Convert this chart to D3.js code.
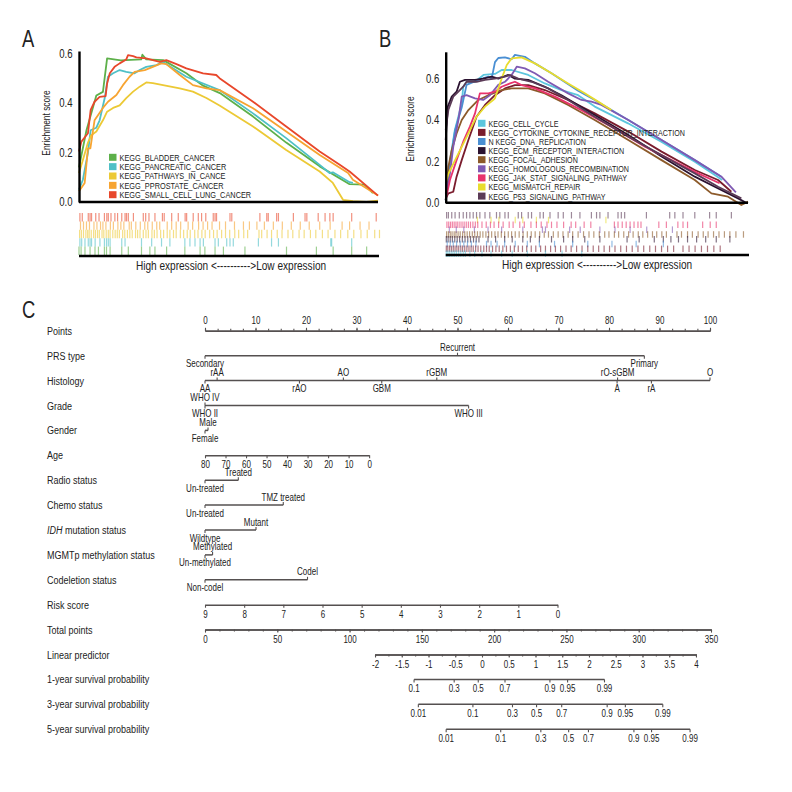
<!DOCTYPE html>
<html lang="en">
<head>
<meta charset="UTF-8">
<title>GSEA and nomogram</title>
<script src="https://cdnjs.cloudflare.com/ajax/libs/d3/7.8.5/d3.min.js"></script>
<style>
    body { margin: 0; background: #fff; }
    svg text { font-family: "Liberation Sans", Arial, sans-serif; fill: #222; }
</style>
</head>
<body>
<svg id="chart" width="792" height="792"></svg>
<script>
const FONT = "Liberation Sans, Arial, sans-serif";
const SX = 0.8;   // squeeze text horizontally to get a condensed look

// ---- panel A: running enrichment score, [rank %, ES]
const setNamesA = ["KEGG_BLADDER_CANCER", "KEGG_PANCREATIC_CANCER", "KEGG_PATHWAYS_IN_CANCE", "KEGG_PPROSTATE_CANCER", "KEGG_SMALL_CELL_LUNG_CANCER"];
const colorsA = ["#5db04a", "#4fc0c6", "#ecc935", "#f7a431", "#e8472b"];
const bladderCurve = [[0,0.14],[2.5,0.29],[5.8,0.43],[8.0,0.445],[9.4,0.58],[14,0.572],[20.8,0.576],[21.2,0.595],[22.5,0.576],[28.1,0.573],[29.2,0.566],[35.9,0.52],[41.5,0.47],[47.1,0.44],[58.2,0.345],[69.3,0.24],[80.5,0.144],[90.5,0.072],[95.5,0.07],[98.3,0.036]];
const pancreaticCurve = [[0,0.05],[1.3,0.09],[3.0,0.2],[3.9,0.29],[5.8,0.3],[6.9,0.33],[8.6,0.42],[9.7,0.506],[11.4,0.52],[13.6,0.533],[15.8,0.526],[18.6,0.52],[20.3,0.533],[22.5,0.546],[25.9,0.553],[28.1,0.566],[35.9,0.506],[47.0,0.452],[58.2,0.358],[69.3,0.258],[80.5,0.15],[83.8,0.117],[84.9,0.12],[90.5,0.08],[91.6,0.077]];
const pathwaysCurve = [[0,0.117],[1.3,0.17],[3.0,0.24],[4.1,0.27],[5.8,0.285],[8.0,0.33],[9.4,0.365],[11.4,0.38],[13.6,0.39],[15.8,0.42],[18.1,0.446],[20.3,0.466],[22.5,0.483],[24.7,0.48],[28.1,0.472],[33.7,0.459],[38.1,0.446],[42.6,0.42],[47.0,0.39],[58.2,0.305],[69.3,0.21],[80.5,0.123],[84.9,0.077],[88.3,0.009],[91.6,0.003],[96.1,0],[100,0.005]];
const prostateCurve = [[0,0.043],[1.9,0.077],[3.0,0.217],[3.8,0.217],[5.2,0.33],[8.0,0.38],[9.7,0.405],[12.5,0.432],[14.7,0.472],[16.9,0.506],[18.6,0.526],[22.0,0.533],[24.7,0.546],[27.5,0.56],[29.2,0.557],[33.7,0.513],[38.1,0.472],[42.6,0.459],[47.0,0.452],[58.2,0.379],[69.3,0.285],[80.5,0.19],[90.0,0.117],[91.6,0.09],[100,0.026]];
const sclcCurve = [[0,0.204],[0.8,0.244],[3.0,0.278],[3.9,0.372],[5.2,0.405],[6.9,0.425],[8.9,0.428],[9.4,0.479],[10.3,0.52],[11.9,0.546],[13.6,0.56],[15.8,0.576],[16.4,0.593],[18.1,0.589],[19.2,0.584],[22.5,0.58],[24.7,0.573],[27.0,0.566],[29.2,0.573],[32.6,0.557],[35.9,0.54],[41.5,0.52],[45.9,0.513],[47.0,0.5],[58.2,0.405],[69.3,0.305],[80.5,0.204],[87.2,0.15],[90.5,0.123],[100,0.026]];

// hit positions (rank %) for the barcode under panel A
const bladderHits = [0,0.7,2,3.7,5.35,6.5,8.5,9.2,10.4,14.3,16.5,20.9,23.7,25.4,29.3,35.4,40.5,42.1,45.5,48.3,55.5,69.4,79.4,85,91.2,96.2];
const pancreaticHits = [0.3,0.9,2,3.1,3.7,4.2,5.4,7,8.5,9.2,9.8,10.4,14.3,15.4,20.9,24.3,27.6,30.4,35.4,37.1,38.8,40.5,41.6,45.5,46.6,49.4,50.5,51.6,60,64.4,66.7,84.2,84.5,91.2];
const pathwaysHits = [0.2,0.8,1.5,2.3,2.9,3.4,4.1,4.9,5.5,6.2,6.8,7.7,8.3,9.1,9.8,10.4,11.3,12.1,12.8,13.5,14.6,15.3,16.2,17,17.8,18.9,19.6,20.4,21.5,22.4,23.2,24.4,25.2,26.1,27.3,28.3,29.5,30.4,31.6,32.5,33.9,35,36.2,37.2,38.7,39.8,41.1,42.2,43.7,45,46.2,47.7,49,50.4,52.1,53.4,55.1,56.4,60.2,61.1,62.9,64.4,66.3,67.9,69.9,71.5,73.6,75.3,77.4,79.2,81.4,83.3,85.6,87.5,89.9,91.9,94.3,96.4,98.9,100.5];
const prostateHits = [0.5,1.5,2.5,3.5,5,6,7.2,8,9,10.5,11.5,13,14,15,16.8,17.5,19,20.5,22,23,24.5,26,27,29.5,31,32.5,34,36.5,38,40,41.5,43,44.5,47,49,52,55,57,59.5,62,65,68,71,74,77,80.5,84,88,90.5,94,97];
const sclcHits = [0.3,1.1,3.1,3.7,4.2,5.6,6.7,8.5,9.3,9.8,10.7,12,12.9,14.3,15.4,15.9,16.5,18.2,21.5,22.3,23.4,25.4,27.9,28.5,31,33.2,35.5,36,38.2,39.9,41,42.4,44.9,45.5,46,50.5,51.1,60.5,62.8,63.3,66.1,66.7,71.7,75.6,76.2,80,82.3,83.9,85,91.2,99.4];

// ---- panel B
const setNamesB = ["KEGG_CELL_CYCLE", "KEGG_CYTOKINE_CYTOKINE_RECEPTOR_INTERACTION", "N KEGG_DNA_REPLICATION", "KEGG_ECM_RECEPTOR_INTERACTION", "KEGG_FOCAL_ADHESION", "KEGG_HOMOLOGOUS_RECOMBINATION", "KEGG_JAK_STAT_SIGNALING_PATHWAY", "KEGG_MISMATCH_REPAIR", "KEGG_P53_SIGNALING_PATHWAY"];
const colorsB = ["#5cc6de", "#7a1c2d", "#4a8fd3", "#2b1230", "#8c5a2a", "#7f5ab3", "#e8336c", "#e8dc2e", "#5b3b57"];
const cellCycleCurve = [[0,0.01],[1.4,0.2],[3,0.35],[5.3,0.48],[5.8,0.56],[6.9,0.585],[9.7,0.585],[12.5,0.618],[16.3,0.623],[18.5,0.642],[21.8,0.642],[27.3,0.618],[32.8,0.577],[38.3,0.545],[43.8,0.52],[49.3,0.465],[60.3,0.384],[71.3,0.295],[82.4,0.198],[91.5,0.11]];
const cytokineCurve = [[0,0.021],[0.9,0.045],[2.5,0.053],[3.6,0.126],[5.3,0.206],[7.5,0.303],[10.2,0.416],[13,0.473],[16.3,0.52],[19.6,0.553],[22.9,0.569],[27.3,0.569],[32.8,0.545],[40.5,0.497],[49.3,0.432],[60.4,0.344],[71.4,0.247],[82.4,0.158],[90.1,0.11],[94.5,0.053]];
const dnaRepCurve = [[0,0.013],[1.4,0.19],[3.1,0.35],[5.3,0.46],[6.9,0.57],[10.8,0.594],[14.1,0.61],[15.2,0.6],[16.3,0.68],[17.4,0.7],[19.6,0.703],[21.8,0.694],[22.9,0.715],[26.2,0.706],[29.5,0.674],[35,0.626],[43.8,0.542],[49.3,0.497],[54.8,0.448],[60.4,0.4],[71.4,0.303],[82.4,0.206],[91.2,0.126]];
const ecmCurve = [[0,0.303],[0.7,0.465],[2,0.513],[3.6,0.537],[4.7,0.585],[6.4,0.594],[9.7,0.594],[12.4,0.6],[15.2,0.61],[17.4,0.6],[20.7,0.618],[22.9,0.6],[27.3,0.594],[32.8,0.561],[38.3,0.52],[49.3,0.424],[60.4,0.327],[71.4,0.223],[82.4,0.126],[89,0.077],[96.7,0.021],[99.4,0]];
const focalCurve = [[0,0.013],[0.9,0.174],[2,0.255],[3.6,0.335],[5.3,0.4],[7.5,0.448],[10.8,0.497],[14.1,0.52],[18.5,0.545],[21.8,0.553],[27.3,0.553],[32.8,0.529],[40.5,0.473],[49.3,0.4],[60.4,0.303],[71.4,0.206],[82.4,0.11],[87.9,0.045],[93.4,0.029],[97.8,-0.011],[100,0.005]];
const homologousCurve = [[0,0.045],[1.4,0.14],[2.5,0.27],[4.2,0.4],[5.3,0.513],[6.9,0.52],[9.7,0.505],[12.4,0.497],[14.6,0.52],[17.4,0.57],[19.6,0.585],[21.8,0.618],[23.5,0.658],[26.2,0.65],[29.5,0.626],[33.9,0.585],[40.5,0.529],[44.9,0.497],[48.2,0.489],[51.5,0.473],[60.4,0.4],[71.4,0.303],[82.4,0.206],[91.2,0.126],[96,0.05]];
const jakCurve = [[0,0.013],[1.4,0.11],[3.6,0.206],[5.8,0.295],[8,0.368],[9.7,0.432],[11.3,0.529],[14.1,0.529],[16.3,0.537],[18.5,0.561],[21.3,0.577],[22.9,0.585],[25.1,0.569],[29.5,0.553],[36.1,0.513],[44.9,0.448],[54.8,0.368],[65.9,0.271],[76.9,0.19],[83.5,0.142],[90.6,0.094]];
const mismatchCurve = [[0,0.094],[0.9,0.14],[3.1,0.206],[5.3,0.27],[7.5,0.335],[10.2,0.416],[13,0.465],[15.7,0.497],[16.3,0.505],[18.5,0.6],[20.2,0.666],[21.8,0.698],[25.1,0.703],[29.5,0.674],[35,0.626],[40.5,0.577],[46,0.529],[50.4,0.489],[54.8,0.448]];
const p53Curve = [[0,0.352],[0.9,0.45],[2.5,0.513],[4.2,0.537],[5.8,0.561],[6.9,0.585],[10.2,0.585],[13,0.594],[16.3,0.6],[19.6,0.61],[21.3,0.618],[24,0.6],[28.4,0.585],[33.9,0.553],[40.5,0.497],[49.3,0.416],[60.4,0.319],[71.4,0.23],[82.4,0.142],[90.1,0.077],[97.8,0.021]];

const cellCycleHits = [0.2,0.7,1.2,1.8,2.4,3,3.6,4.3,5,5.8,6.5,8,9.6,12,15,18.5,22,27,33,38.5,45];
const cytokineHits = [0.2,0.7,1.3,1.9,2.5,3.1,3.7,4.3,5,5.6,6.3,7,7.7,8.4,9.1,9.9,10.7,11.6,12.6,13.5,14.4,15.5,16.6,17.7,18.9,20.1,21.4,22.7,24,25.4,26.8,28.3,29.8,31.4,33,34.7,36.3,38,39.8,41.5,43.3,45.1,47,48.8,50.6,52.4,54.2,56,57.9,59.8,61.7,63.6,65.5,67.5,69.4,71.4,73.4,75.4,78.5,80.5,82.5,84.6,86.6,88.7,90.8];
const dnaRepHits = [0.5,1.5,2.5,3.6,4.8,6,7.2,8.5,10,13.5,15,17,19.5,23,27,31,36,42,47,55,63,72];
const ecmHits = [0.2,0.8,1.5,2.2,3,3.8,4.6,5.5,6.4,7.3,8.2,9.2,10.1,11,14,16.5,19.5,22,25.5,28,31,35,39,42,46,51,60,64,69,72,74.5,77,80,83,86,89.5,94];
const focalHits = [0.3,0.9,1.5,2.1,2.8,3.4,4.1,4.8,5.6,6.3,7.1,7.9,8.8,9.6,10.5,11.4,12.3,13.3,14.2,15.2,16.3,17.3,18.4,19.5,20.7,21.8,23,24.3,25.6,27,28.3,29.6,31.1,32.6,34,35.6,37.2,38.8,40.5,42,43.8,45.6,47.4,49,50.8,52.6,54,55.8,57.2,58.9,60.5,62,63.7,65.2,66.8,68.4,69.8,71.5,73,76.5,78,80,81.6,83.5,85.2,86.8,88.6,90.4,92.2,94,96,98.5];
const homologousHits = [1.2,3.5,6,9.5,14,18.5,25.5,32,33,41,44.5,51,56,61,66.5,75];
const jakHits = [0.4,1,1.6,2.2,2.8,3.4,4,4.7,5.4,6.1,6.8,7.5,8.2,9,9.8,10.6,12,13.4,14.8,16,17.5,19,21,22.3,24.5,26,28.2,30,31.6,33.5,35,36.8,39,41.5,43,45.8,48,55.8,57,58.4,59.7,61,62.3,63.6,64.6,70.5,73,76.8,78.5,80,85,87.5,89.5];
const mismatchHits = [10.5,15,17.6,23,25.5,30,34,53];
const p53Hits = [0.3,0.9,2,3.1,4.5,5.8,6.9,8,9.1,10.2,11.3,13,14.6,16.8,17.9,19.6,20.7,24,25.1,27.3,28.4,31.2,32.3,34.5,37.2,38.9,41.6,44.4,48.2,49.9,51,53.7,57,58.1,59.2,66.4,74.1,75.8,78.5,82.4,87.3,89.5,94.5];

// ---- panel C: nomogram (points per level)
const rowNames = ["Points", "PRS type", "Histology", "Grade", "Gender", "Age", "Radio status", "Chemo status", "IDH mutation status", "MGMTp methylation status", "Codeletion status", "Risk score", "Total points", "Linear predictor", "1-year survival probability", "3-year survival probability", "5-year survival probability"];
const prsLevels = ["Secondary", "Recurrent", "Primary"];
const prsPoints = [0, 50, 87];
const histLevels = ["AA", "rAA", "rAO", "AO", "GBM", "rGBM", "A", "rO-sGBM", "rA", "O"];
const histPoints = [0, 2.4, 18.7, 27.4, 35, 45.9, 81.6, 81.7, 88.4, 100];
const gradeLevels = ["WHO II", "WHO III", "WHO IV"];
const gradePoints = [0, 52.2, 0];
const genderLevels = ["Female", "Male"];
const genderPoints = [0, 0.6];
const ageTicks = [80, 70, 60, 50, 40, 30, 20, 10, 0];
const agePointsAtZero = 32.5;           // age 80 -> 0 points, age 0 -> 32.5
const radioLevels = ["Un-treated", "Treated"];
const radioPoints = [0, 6.6];
const chemoLevels = ["Un-treated", "TMZ treated"];
const chemoPoints = [0, 15.5];
const idhLevels = ["Wildtype", "Mutant"];
const idhPoints = [0, 10.1];
const mgmtLevels = ["Un-methylated", "Methylated"];
const mgmtPoints = [0, 1.5];
const codelLevels = ["Non-codel", "Codel"];
const codelPoints = [0, 20.3];
const riskTicks = [9, 8, 7, 6, 5, 4, 3, 2, 1, 0];
const riskPointsAtZero = 69.8;          // risk 9 -> 0 points, risk 0 -> 69.8
const totalTicks = [0, 50, 100, 150, 200, 250, 300, 350];
const lpTicks = [-2, -1.5, -1, -0.5, 0, 0.5, 1, 1.5, 2, 2.5, 3, 3.5, 4];
const lpTotalRange = [117.6, 339.6];    // total points at lp -2 and lp 4
const surv1Probs = [0.1, 0.3, 0.5, 0.7, 0.9, 0.95, 0.99];
const surv1Lp = [-1.27, -0.52, -0.07, 0.43, 1.27, 1.60, 2.29];
const surv3Probs = [0.01, 0.1, 0.3, 0.5, 0.7, 0.9, 0.95, 0.99];
const surv3Lp = [-1.19, -0.17, 0.57, 1.02, 1.49, 2.34, 2.68, 3.38];
const surv5Probs = [0.01, 0.1, 0.3, 0.5, 0.7, 0.9, 0.95, 0.99];
const surv5Lp = [-0.67, 0.35, 1.10, 1.62, 1.99, 2.84, 3.17, 3.89];

const svg = d3.select("#chart");

// text with a horizontal squeeze
function txt(parent, x, y, s, size, anchor, extra) {
    return parent.append("text")
        .attr("transform", `translate(${x},${y}) ${extra || ""} scale(${SX},1)`)
        .attr("font-size", size)
        .attr("text-anchor", anchor || "start")
        .text(s);
}

function drawGsea(opt) {
    const g = svg.append("g");
    const x = d3.scaleLinear().domain([0, 100]).range(opt.xRange);
    const y = d3.scaleLinear().domain([0, opt.yMax]).range(opt.yRange);

    // barcode of hits
    opt.hits.forEach((hits, i) => {
        g.append("g").selectAll("line").data(hits).enter().append("line")
            .attr("x1", d => x(d)).attr("x2", d => x(d))
            .attr("y1", opt.rugTop + i * opt.rugStep)
            .attr("y2", opt.rugTop + i * opt.rugStep + opt.rugLen)
            .attr("stroke", opt.rugColors[i])
            .attr("stroke-width", 1.2)
            .attr("stroke-opacity", 0.6);
    });

    const line = d3.line().x(d => x(d[0])).y(d => y(d[1]));
    opt.curves.forEach((c, i) => {
        g.append("path").datum(c).attr("d", line)
            .attr("fill", "none").attr("stroke", opt.colors[i])
            .attr("stroke-width", 1.8).attr("stroke-linejoin", "round");
    });

    const ax = g.append("g").attr("transform", `translate(${opt.xRange[0]},0)`)
        .call(d3.axisLeft(y).tickValues([0, 0.2, 0.4, 0.6]).tickFormat(d3.format(".1f"))
            .tickSize(0).tickPadding(8).tickSizeOuter(0));
    ax.attr("font-family", FONT).attr("font-size", 12);
    ax.selectAll(".tick text").attr("transform", `scale(${SX},1)`).attr("fill", "#222");
    ax.select(".domain").attr("stroke", "#000").attr("stroke-width", 2.4);

    g.append("line").attr("x1", x(0)).attr("x2", x(100)).attr("y1", y(0)).attr("y2", y(0))
        .attr("stroke", "#000").attr("stroke-width", 2.4);
    g.append("line").attr("x1", x(0)).attr("x2", x(100) + 1).attr("y1", opt.bottomY).attr("y2", opt.bottomY)
        .attr("stroke", "#000").attr("stroke-width", 2.4);

    txt(g, opt.yLabelX, opt.yLabelY, "Enrichment score", 10.5, "middle", "rotate(-90)");
    txt(g, opt.xLabelX, opt.bottomY + 14, "High expression <---------->Low expression", 12.6, "middle");

    // legend
    opt.names.forEach((n, i) => {
        const cy = opt.legY + i * opt.legStep;
        g.append("rect").attr("x", opt.legX).attr("y", cy - 3.5).attr("width", 7.5).attr("height", 7)
            .attr("fill", opt.colors[i]);
        txt(g, opt.legX + 10.5, cy + 3.4, n, opt.legSize);
    });
}

txt(svg, 22, 47, "A", 23);
txt(svg, 379, 47, "B", 23);
txt(svg, 22, 318, "C", 23);

drawGsea({
    xRange: [79, 378], yRange: [202, 51], yMax: 0.61,
    curves: [bladderCurve, pancreaticCurve, pathwaysCurve, prostateCurve, sclcCurve],
    colors: colorsA, names: setNamesA,
    hits: [sclcHits, prostateHits, pathwaysHits, pancreaticHits, bladderHits],
    rugColors: [colorsA[4], colorsA[3], colorsA[2], colorsA[1], colorsA[0]],
    rugTop: 213, rugStep: 8.4, rugLen: 8.4, bottomY: 256,
    yLabelX: 50, yLabelY: 123, xLabelX: 231,
    legX: 109, legY: 157.3, legStep: 9.35, legSize: 9.2
});

drawGsea({
    xRange: [445.7, 748], yRange: [202.7, 51.8], yMax: 0.73,
    curves: [cellCycleCurve, cytokineCurve, dnaRepCurve, ecmCurve, focalCurve, homologousCurve, jakCurve, mismatchCurve, p53Curve],
    colors: colorsB, names: setNamesB,
    hits: [p53Hits, mismatchHits, jakHits, homologousHits, focalHits, ecmHits, dnaRepHits, cytokineHits, cellCycleHits],
    rugColors: [colorsB[8], colorsB[7], colorsB[6], colorsB[5], colorsB[4], colorsB[3], colorsB[2], colorsB[1], colorsB[0]],
    rugTop: 212, rugStep: 4.8, rugLen: 6.5, bottomY: 255,
    yLabelX: 414, yLabelY: 129, xLabelX: 597,
    legX: 478, legY: 123.3, legStep: 9.1, legSize: 8.9
});

// ---- nomogram
const LINE = "#555050";
const nomo = svg.append("g");
const rowY = i => 330.8 + i * 24.9;
const px = d3.scaleLinear().domain([0, 100]).range([205, 710]);
const tot = d3.scaleLinear().domain([0, 350]).range([205, 711]);
const lpScale = d3.scaleLinear().domain([-2, 4]).range(lpTotalRange.map(tot));

rowNames.forEach((n, i) => {
    const t = nomo.append("text")
        .attr("transform", `translate(47,${rowY(i) + 4}) scale(${SX + 0.02},1)`)
        .attr("font-size", 11);
    if (n.startsWith("IDH")) {
        t.append("tspan").attr("font-style", "italic").text("IDH");
        t.append("tspan").text(n.slice(3));
    } else {
        t.text(n);
    }
});

function styleAxis(g) {
    g.attr("font-family", FONT).attr("font-size", 10);
    g.select(".domain").attr("stroke", LINE).attr("stroke-width", 1.5);
    g.selectAll(".tick line").attr("stroke", LINE).attr("stroke-width", 1.1);
    g.selectAll(".tick text").attr("fill", "#222").attr("transform", `scale(${SX},1)`);
}

function scaleRow(i, scale, ticks, minor, above) {
    const y = rowY(i);
    const mk = above ? d3.axisTop : d3.axisBottom;
    if (minor) {
        const gm = nomo.append("g").attr("transform", `translate(0,${y})`)
            .call(mk(scale).tickValues(minor).tickFormat("").tickSize(2).tickSizeOuter(0));
        styleAxis(gm);
    }
    const ga = nomo.append("g").attr("transform", `translate(0,${y})`)
        .call(mk(scale).tickValues(ticks).tickFormat(d => d).tickSize(3).tickPadding(above ? 4 : 3).tickSizeOuter(0));
    styleAxis(ga);
}

function catRow(i, levels, pts) {
    const y = rowY(i);
    const order = d3.range(levels.length).sort((a, b) => pts[a] - pts[b]);
    nomo.append("line").attr("x1", px(d3.min(pts))).attr("x2", px(d3.max(pts)))
        .attr("y1", y).attr("y2", y).attr("stroke", LINE).attr("stroke-width", 1.5);
    order.forEach((k, j) => {
        const up = j % 2 === 1;
        const xx = px(pts[k]);
        nomo.append("line").attr("x1", xx).attr("x2", xx).attr("y1", y).attr("y2", y + (up ? -3 : 3))
            .attr("stroke", LINE).attr("stroke-width", 1.1);
        txt(nomo, xx, y + (up ? -4.5 : 11.5), levels[k], 10, "middle");
    });
}

scaleRow(0, px, d3.range(0, 101, 10), d3.range(0, 100.1, 2.5), true);
catRow(1, prsLevels, prsPoints);
catRow(2, histLevels, histPoints);
catRow(3, gradeLevels, gradePoints);
catRow(4, genderLevels, genderPoints);
scaleRow(5, d3.scaleLinear().domain([80, 0]).range([px(0), px(agePointsAtZero)]), ageTicks, null, false);
catRow(6, radioLevels, radioPoints);
catRow(7, chemoLevels, chemoPoints);
catRow(8, idhLevels, idhPoints);
catRow(9, mgmtLevels, mgmtPoints);
catRow(10, codelLevels, codelPoints);
scaleRow(11, d3.scaleLinear().domain([9, 0]).range([px(0), px(riskPointsAtZero)]), riskTicks, null, false);
scaleRow(12, tot, totalTicks, d3.range(0, 351, 10), false);
scaleRow(13, lpScale, lpTicks, d3.range(-2, 4.01, 0.25), false);

function survRow(i, probs, lps) {
    const pos = d3.scaleOrdinal().domain(probs).range(lps.map(v => lpScale(v)));
    const y = rowY(i);
    nomo.append("line").attr("x1", pos(probs[0])).attr("x2", pos(probs[probs.length - 1]))
        .attr("y1", y).attr("y2", y).attr("stroke", LINE).attr("stroke-width", 1.5);
    probs.forEach(p => {
        nomo.append("line").attr("x1", pos(p)).attr("x2", pos(p)).attr("y1", y).attr("y2", y + 3)
            .attr("stroke", LINE).attr("stroke-width", 1.1);
        txt(nomo, pos(p), y + 13, String(p), 10, "middle");
    });
}
survRow(14, surv1Probs, surv1Lp);
survRow(15, surv3Probs, surv3Lp);
survRow(16, surv5Probs, surv5Lp);
</script>
</body>
</html>
